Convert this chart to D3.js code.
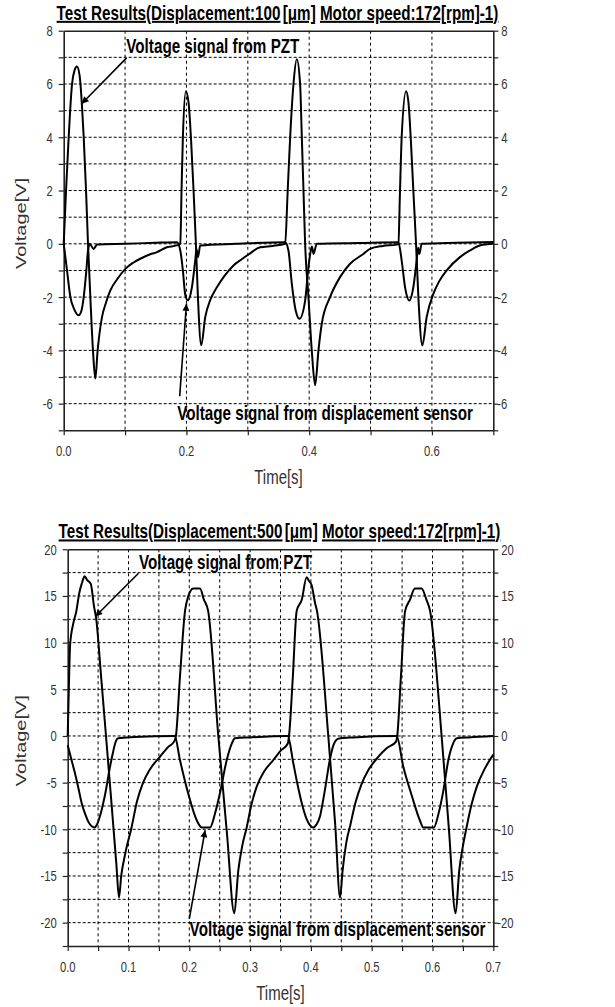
<!DOCTYPE html>
<html><head><meta charset="utf-8">
<script src="https://cdn.jsdelivr.net/npm/d3@7"></script>
<style>
body{margin:0;background:#fff;}
svg{display:block;}
text{font-family:"Liberation Sans",Arial,sans-serif;}
</style></head><body>
<svg id="chart" width="615" height="1007"></svg>
<script>
// ---------------- DATA ----------------
const topTitleParts = ["Test Results(Displacement:100", "[μm]", "Motor speed:172[rpm]-1)"];
const bottomTitleParts = ["Test Results(Displacement:500", "[μm]", "Motor speed:172[rpm]-1)"];
const xAxisTitle = "Time[s]";
const yAxisTitle = "Voltage[V]";
const notePzt = "Voltage signal from PZT";
const noteDisp = "Voltage signal from displacement sensor";

// top chart: [time s, voltage V]
const topPzt = [[0.000,0],[0.0038,2],[0.0081,4],[0.0136,6],[0.0175,6.5],[0.0217,6.66],[0.026,6.3],[0.0298,5.17],[0.0326,4],[0.0364,2],[0.0396,0],[0.0434,-2],[0.0477,-4],[0.0515,-5.06],[0.0553,-4],[0.0624,-2.75],[0.069,-2.2],[0.076,-1.75],[0.088,-1.3],[0.1004,-0.94],[0.1125,-0.72],[0.1248,-0.56],[0.138,-0.42],[0.152,-0.31],[0.168,-0.13],[0.184,-0.06],
 [0.19,0],[0.192,2],[0.1942,4],[0.1991,5.73],[0.2035,5.29],[0.2073,4],[0.2116,2],[0.2154,0],[0.2187,-2],[0.2241,-3.81],[0.2306,-2.75],[0.239,-2.1],[0.2496,-1.63],[0.262,-1.2],[0.2767,-0.81],[0.29,-0.58],[0.3011,-0.4],[0.32,-0.13],[0.34,-0.08],[0.3608,0],
 [0.365,2],[0.369,4],[0.3744,6],[0.3798,6.93],[0.3852,6],[0.388,4],[0.3907,2],[0.3934,0],[0.3988,-2],[0.4042,-4],[0.4097,-5.31],[0.4151,-4],[0.4205,-3],[0.434,-2],[0.4503,-1.25],[0.4666,-0.75],[0.4883,-0.38],[0.4992,-0.19],[0.52,-0.08],[0.5426,-0.03],
 [0.5453,0],[0.548,2],[0.5507,4],[0.5578,5.73],[0.5616,5.35],[0.5654,4],[0.5697,2],[0.5741,0],[0.5779,-2],[0.5844,-3.81],[0.5914,-2.75],[0.6023,-1.88],[0.612,-1.4],[0.624,-1.0],[0.6457,-0.5],[0.662,-0.25],[0.6782,-0.06],[0.7,0]];
const topDisp = [[0,0],[0.0054,-1],[0.0109,-2],[0.017,-2.45],[0.0244,-2.68],[0.029,-2.5],[0.0326,-2],[0.0369,-1],[0.0396,-0.25],[0.0423,0],[0.0488,-0.19],[0.0543,-0.03],[0.1,0],[0.15,0.04],[0.1845,0.06],
 [0.19,-0.25],[0.1942,-1],[0.198,-1.9],[0.2024,-2.12],[0.2089,-1.63],[0.2143,-0.63],[0.2165,-0.2],[0.2187,-0.5],[0.2225,-0.06],[0.28,0],[0.3608,0.06],
 [0.3662,-0.25],[0.3717,-1.5],[0.378,-2.5],[0.3842,-2.81],[0.3934,-2.13],[0.3988,-0.88],[0.4026,-0.25],[0.4045,-0.1],[0.407,-0.38],[0.4124,0],[0.48,0.03],[0.5453,0.06],
 [0.5507,-0.63],[0.5562,-1.63],[0.5632,-2.13],[0.5697,-1.63],[0.5751,-0.63],[0.5775,-0.15],[0.5795,-0.38],[0.5833,0],[0.64,0.04],[0.7,0.07]];

// bottom chart: [time s, voltage V]
const bottomPzt = [[0,0],[0.002,5.5],[0.004,9.8],[0.009,12.0],[0.014,13.3],[0.019,15.3],[0.0235,16.4],[0.028,17.1],[0.032,16.7],[0.038,16.3],[0.043,14.0],[0.047,12.5],[0.055,6.3],[0.063,0],[0.072,-7.2],[0.080,-13.7],[0.0844,-17.3],[0.088,-15.0],[0.095,-12.5],[0.105,-9.8],[0.114,-7.0],[0.124,-5.0],[0.136,-3.5],[0.152,-2.2],[0.165,-1.2],[0.176,-0.5],
 [0.178,0],[0.1847,6.4],[0.193,13.4],[0.198,14.9],[0.2066,15.8],[0.2176,15.8],[0.224,14.6],[0.231,13.4],[0.2477,0],[0.262,-10.5],[0.274,-19.0],[0.2806,-14.4],[0.287,-11.8],[0.2944,-9.8],[0.302,-7.4],[0.311,-5.4],[0.323,-3.8],[0.338,-2.6],[0.350,-1.6],[0.362,-0.8],
 [0.364,0],[0.370,6.0],[0.3766,13.4],[0.385,14.6],[0.393,17.0],[0.397,16.6],[0.401,16.2],[0.407,14.2],[0.410,13.4],[0.4286,0],[0.440,-9.5],[0.448,-17.3],[0.452,-14.5],[0.458,-11.5],[0.465,-9.5],[0.473,-7.2],[0.483,-5.2],[0.495,-3.6],[0.510,-2.3],[0.525,-1.3],[0.540,-0.6],
 [0.542,0],[0.548,6.3],[0.555,13.4],[0.563,14.6],[0.571,15.8],[0.582,15.8],[0.590,14.6],[0.596,13.4],[0.615,0],[0.627,-10.0],[0.638,-19.0],[0.644,-14.4],[0.650,-11.8],[0.656,-9.8],[0.664,-7.4],[0.673,-5.4],[0.686,-3.5],[0.700,-2.0]];
const bottomDisp = [[0,-1.0],[0.006,-2.5],[0.012,-4.0],[0.018,-5.7],[0.023,-7.2],[0.029,-8.4],[0.034,-9.2],[0.040,-9.7],[0.0438,-9.8],[0.048,-9.5],[0.053,-8.6],[0.057,-7.6],[0.0614,-6.3],[0.0696,-3.3],[0.075,-1.6],[0.078,-0.8],[0.083,-0.25],[0.11,-0.12],[0.176,0],
 [0.1847,-2.6],[0.198,-6.1],[0.212,-9.0],[0.2204,-9.8],[0.234,-9.8],[0.2423,-8.3],[0.2505,-6.1],[0.2615,-2.6],[0.270,-0.8],[0.275,-0.25],[0.300,-0.15],[0.362,0],
 [0.371,-2.9],[0.378,-5.2],[0.385,-7.2],[0.393,-8.9],[0.399,-9.6],[0.404,-9.8],[0.409,-9.5],[0.415,-8.6],[0.419,-7.3],[0.423,-5.8],[0.431,-2.6],[0.437,-1.0],[0.445,-0.3],[0.470,-0.15],[0.541,0],
 [0.552,-3.3],[0.566,-6.4],[0.579,-9.0],[0.585,-9.8],[0.602,-9.8],[0.610,-8.3],[0.618,-5.8],[0.626,-2.6],[0.634,-0.8],[0.640,-0.25],[0.660,-0.15],[0.700,0]];

// tick labels
const topYLabels = [8,6,4,2,0,-2,-4,-6];
const topXLabels = ["0.0","0.2","0.4","0.6"];
const bottomYLabels = [20,15,10,5,0,-5,-10,-15,-20];
const bottomXLabels = ["0.0","0.1","0.2","0.3","0.4","0.5","0.6","0.7"];

// ---------------- DRAW ----------------
const svg = d3.select("#chart");
const SX = 0.75; // horizontal squeeze of the original picture's text

svg.append("defs").append("marker")
  .attr("id","arrow").attr("viewBox","0 0 10 10")
  .attr("refX",10).attr("refY",5)
  .attr("markerWidth",9).attr("markerHeight",7)
  .attr("markerUnits","userSpaceOnUse").attr("orient","auto")
  .append("path").attr("d","M0,0L10,5L0,10z").attr("fill","#000");

function txt(sel, x, y, str, o) {
  const t = sel.append("text")
    .attr("transform", `translate(${x},${y}) scale(${SX},1)` + (o.rotate ? " rotate(-90)" : ""))
    .attr("text-anchor", o.anchor || "start")
    .style("font-size", o.size + "px")
    .style("font-weight", o.weight || "normal")
    .attr("fill", o.fill || "#000");
  if (o.dy) t.attr("dy", o.dy);
  if (str !== null) t.text(str);
  return t;
}

function panel(c) {
  const x = d3.scaleLinear().domain([0, 0.7]).range([c.left, c.right]);
  const y = d3.scaleLinear().domain(c.yDomain).range([c.bottom, c.top]);
  const g = svg.append("g");

  const nx = Math.round(0.7 / c.xStep);
  const ny = Math.round((c.yDomain[1] - c.yDomain[0]) / c.yStep);
  const xTicks = d3.range(0, nx + 1).map(i => i * c.xStep);
  const yTicks = d3.range(0, ny + 1).map(i => c.yDomain[0] + i * c.yStep);

  // grid
  g.append("g").selectAll("line").data(xTicks.slice(1, -1)).join("line")
    .attr("x1", d => x(d)).attr("x2", d => x(d))
    .attr("y1", c.top).attr("y2", c.bottom)
    .attr("stroke", "#000").attr("stroke-width", 1).attr("stroke-dasharray", "3,3");
  g.append("g").selectAll("line").data(yTicks.slice(1, -1)).join("line")
    .attr("x1", c.left).attr("x2", c.right)
    .attr("y1", d => y(d)).attr("y2", d => y(d))
    .attr("stroke", "#000").attr("stroke-width", 1).attr("stroke-dasharray", "3,2");

  // axes (ticks + frame)
  const axStyle = s => { s.select(".domain").attr("stroke", "#222").attr("stroke-width", 1.6);
    s.selectAll(".tick line").attr("stroke", "#222").attr("stroke-width", 1.2); };
  g.append("g").attr("transform", `translate(${c.left},0)`)
    .call(d3.axisLeft(y).tickValues(yTicks).tickSizeInner(5).tickSizeOuter(0).tickFormat(""))
    .call(axStyle);
  g.append("g").attr("transform", `translate(${c.right},0)`)
    .call(d3.axisRight(y).tickValues(yTicks).tickSizeInner(5).tickSizeOuter(0).tickFormat(""))
    .call(axStyle);
  g.append("g").attr("transform", `translate(0,${c.bottom})`)
    .call(d3.axisBottom(x).tickValues(xTicks).tickSizeInner(5).tickSizeOuter(0).tickFormat(""))
    .call(axStyle);
  g.append("g").attr("transform", `translate(0,${c.top})`)
    .call(d3.axisTop(x).tickValues([]).tickSizeOuter(0))
    .call(axStyle);

  // tick labels
  c.yLabels.forEach(v => {
    txt(g, c.left - 11, y(v), String(v), {size: 15, anchor: "end", fill: "#333", dy: "0.36em"});
    txt(g, c.right + (v < 0 ? 4 : 8), y(v), String(v), {size: 15, anchor: "start", fill: "#333", dy: "0.36em"});
  });
  c.xLabels.forEach(s => {
    txt(g, x(+s), c.bottom + 25.5, s, {size: 15, anchor: "middle", fill: "#333"});
  });

  // axis titles
  txt(g, (c.left + c.right) / 2, c.bottom + 54, xAxisTitle, {size: 20, anchor: "middle", fill: "#333"});
  txt(g, 26, (c.top + c.bottom) / 2 - 7, yAxisTitle, {size: 20, anchor: "middle", fill: "#333", rotate: true});

  // title
  const t = txt(g, (c.left + c.right) / 2 - 1, c.top - 11, null, {size: 20.3, anchor: "middle", weight: "bold"})
    .style("white-space", "pre");
  t.append("tspan").text(c.title[0]).style("text-decoration", "underline");
  t.append("tspan").attr("dx", 3).text(c.title[1]).style("text-decoration", "underline");
  t.append("tspan").text(" ");
  t.append("tspan").text(c.title[2]).style("text-decoration", "underline");

  // series
  const line = d3.line().x(d => x(d[0])).y(d => y(d[1])).curve(d3.curveMonotoneX);
  c.series.forEach(s => {
    g.append("path").datum(s).attr("d", line)
      .attr("fill", "none").attr("stroke", "#000").attr("stroke-width", 2)
      .attr("stroke-linejoin", "round");
  });

  // annotations
  c.notes.forEach(n => {
    txt(g, x(n.at[0]), y(n.at[1]), n.text, {size: 20.3, weight: "bold", anchor: "start"});
    g.append("line")
      .attr("x1", x(n.from[0])).attr("y1", y(n.from[1]))
      .attr("x2", x(n.to[0])).attr("y2", y(n.to[1]))
      .attr("stroke", "#000").attr("stroke-width", 1.6)
      .attr("marker-end", "url(#arrow)");
  });
}

panel({
  title: topTitleParts, series: [topDisp, topPzt],
  left: 63.7, right: 493.3, top: 30.7, bottom: 430.3,
  yDomain: [-7, 8], yStep: 1, xStep: 0.1,
  yLabels: topYLabels, xLabels: topXLabels,
  notes: [
    {text: notePzt, at: [0.102, 7.16], from: [0.1025, 6.98], to: [0.0293, 5.26]},
    {text: noteDisp, at: [0.185, -6.62], from: [0.189, -5.72], to: [0.2, -2.25]}
  ]
});
panel({
  title: bottomTitleParts, series: [bottomDisp, bottomPzt],
  left: 67.7, right: 493.3, top: 549.3, bottom: 946,
  yDomain: [-22.5, 20], yStep: 2.5, xStep: 0.05,
  yLabels: bottomYLabels, xLabels: bottomXLabels,
  notes: [
    {text: notePzt, at: [0.1173, 17.92], from: [0.1164, 17.43], to: [0.0455, 12.8]},
    {text: noteDisp, at: [0.2005, -21.44], from: [0.2, -19.6], to: [0.226, -10.1]}
  ]
});
</script></body></html>
